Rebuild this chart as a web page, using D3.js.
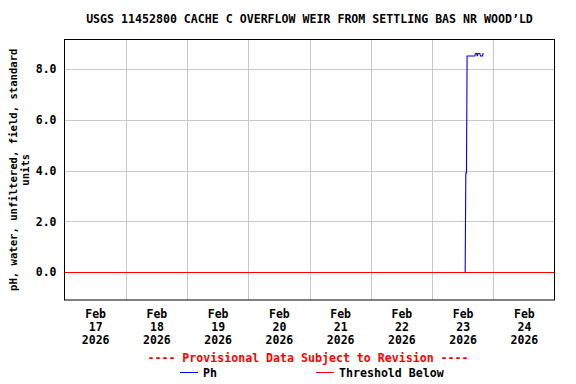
<!DOCTYPE html>
<html>
<head>
<meta charset="utf-8">
<script src="https://cdn.jsdelivr.net/npm/d3@7"></script>
<style>
  body { margin: 0; background: #fff; }
  svg text { font-family: "DejaVu Sans Mono", "Liberation Mono", monospace; font-weight: bold; }
</style>
</head>
<body>
<div id="chart"></div>
<script>
const titleText = "USGS 11452800 CACHE C OVERFLOW WEIR FROM SETTLING BAS NR WOOD\u2019LD";
const yLabelLines = ["pH, water, unfiltered, field, standard", "units"];
const dayTicks = ["2026-02-17", "2026-02-18", "2026-02-19", "2026-02-20",
  "2026-02-21", "2026-02-22", "2026-02-23", "2026-02-24"];
const yTicks = [0, 2, 4, 6, 8];
const thresholdValue = 0.0;

// pH readings on Feb 23 2026
const phTimes = [
  "2026-02-23 13:00", "2026-02-23 13:15", "2026-02-23 13:30", "2026-02-23 13:45",
  "2026-02-23 14:00", "2026-02-23 14:15", "2026-02-23 14:30", "2026-02-23 14:45",
  "2026-02-23 15:00", "2026-02-23 15:15", "2026-02-23 15:30", "2026-02-23 15:45",
  "2026-02-23 16:00", "2026-02-23 16:15", "2026-02-23 16:30", "2026-02-23 16:45",
  "2026-02-23 17:00", "2026-02-23 17:15", "2026-02-23 17:30", "2026-02-23 17:45",
  "2026-02-23 18:00", "2026-02-23 18:15", "2026-02-23 18:30", "2026-02-23 18:45",
  "2026-02-23 19:00", "2026-02-23 19:15", "2026-02-23 19:30", "2026-02-23 19:45",
  "2026-02-23 20:00", "2026-02-23 20:15"
];
const phValues = [
  0.0, 3.9, 3.9, 8.5,
  8.5, 8.5, 8.5, 8.5,
  8.5, 8.5, 8.5, 8.5,
  8.5, 8.5, 8.5, 8.5,
  8.6, 8.6, 8.6, 8.5,
  8.6, 8.6, 8.6, 8.6,
  8.5, 8.5, 8.5, 8.5,
  8.6, 8.6
];

const width = 576;
const height = 384;
const margin = { top: 39.5, right: 21.5, bottom: 84, left: 64.5 };
const plotW = width - margin.left - margin.right;
const plotH = height - margin.top - margin.bottom;

const parseDay = d3.utcParse("%Y-%m-%d");
const parseTime = d3.utcParse("%Y-%m-%d %H:%M");

const svg = d3.select("#chart").append("svg")
  .attr("width", width)
  .attr("height", height);

const xScale = d3.scaleUtc()
  .domain([parseDay("2026-02-17"), parseDay("2026-02-25")])
  .range([margin.left, margin.left + plotW]);

const yScale = d3.scaleLinear()
  .domain([-1.09, 9.15])
  .range([margin.top + plotH, margin.top]);

const gridColor = "#c8c8c8";

// vertical grid at midnight
const midnights = dayTicks.slice(1).map(parseDay);
svg.append("g")
  .selectAll("line")
  .data(midnights)
  .join("line")
  .attr("x1", (d) => Math.round(xScale(d)) + 0.5)
  .attr("x2", (d) => Math.round(xScale(d)) + 0.5)
  .attr("y1", margin.top)
  .attr("y2", margin.top + plotH)
  .attr("stroke", gridColor);

// horizontal grid
svg.append("g")
  .selectAll("line")
  .data(yTicks)
  .join("line")
  .attr("x1", margin.left)
  .attr("x2", margin.left + plotW)
  .attr("y1", (d) => Math.round(yScale(d)) + 0.5)
  .attr("y2", (d) => Math.round(yScale(d)) + 0.5)
  .attr("stroke", gridColor);

// threshold line
svg.append("line")
  .attr("x1", margin.left)
  .attr("x2", margin.left + plotW)
  .attr("y1", Math.round(yScale(thresholdValue)) + 0.5)
  .attr("y2", Math.round(yScale(thresholdValue)) + 0.5)
  .attr("stroke", "#ff0000");

// pH series
const phData = phTimes.map((t, i) => ({ date: parseTime(t), value: phValues[i] }));
const line = d3.line()
  .x((d) => xScale(d.date))
  .y((d) => yScale(d.value));

svg.append("path")
  .datum(phData)
  .attr("d", line)
  .attr("fill", "none")
  .attr("stroke", "#0000ff")
  .attr("stroke-width", 1.1);

// frame
svg.append("rect")
  .attr("x", margin.left)
  .attr("y", margin.top)
  .attr("width", plotW)
  .attr("height", plotH)
  .attr("fill", "none")
  .attr("stroke", "#000");

// y axis
const yAxis = d3.axisLeft(yScale)
  .tickValues(yTicks)
  .tickFormat(d3.format(".1f"))
  .tickSize(0)
  .tickPadding(8);

const yAxisG = svg.append("g")
  .attr("transform", `translate(${margin.left}, 0)`)
  .call(yAxis);
yAxisG.select(".domain").remove();
yAxisG.selectAll("text")
  .attr("font-size", 11.5)
  .attr("font-family", null)
  .attr("fill", "#000");

// x axis labels at noon, three lines each
const noons = dayTicks.map((d) => d3.utcHour.offset(parseDay(d), 12));
const fmtMon = d3.utcFormat("%b");
const fmtDay = d3.utcFormat("%d");
const fmtYear = d3.utcFormat("%Y");

const xAxis = d3.axisBottom(xScale)
  .tickValues(noons)
  .tickSize(0)
  .tickFormat("");

const xAxisG = svg.append("g")
  .attr("transform", `translate(0, ${margin.top + plotH})`)
  .call(xAxis);
xAxisG.select(".domain").remove();
xAxisG.selectAll(".tick").each(function (d) {
  const t = d3.select(this).select("text")
    .attr("y", 0)
    .attr("dy", null)
    .attr("font-size", 11.5)
    .attr("font-family", null)
    .attr("fill", "#000");
  [fmtMon(d), fmtDay(d), fmtYear(d)].forEach((s, i) => {
    t.append("tspan").attr("x", 0).attr("y", 18 + i * 13).text(s);
  });
});

// title
svg.append("text")
  .attr("x", margin.left + plotW / 2)
  .attr("y", 23)
  .attr("text-anchor", "middle")
  .attr("font-size", 11.6)
  .text(titleText);

// y label
const yLabel = svg.append("text")
  .attr("transform", `translate(17, ${margin.top + plotH / 2}) rotate(-90)`)
  .attr("text-anchor", "middle")
  .attr("font-size", 10.6);
yLabelLines.forEach((s, i) => {
  yLabel.append("tspan").attr("x", 0).attr("y", i * 12).text(s);
});

// provisional note
svg.append("text")
  .attr("x", 308)
  .attr("y", 362)
  .attr("text-anchor", "middle")
  .attr("font-size", 11.6)
  .attr("fill", "#ff0000")
  .text("---- Provisional Data Subject to Revision ----");

// legend
const legendItems = [
  { label: "Ph", color: "#0000ff", x: 180 },
  { label: "Threshold Below", color: "#ff0000", x: 316 }
];
const legend = svg.append("g")
  .selectAll("g")
  .data(legendItems)
  .join("g")
  .attr("transform", (d) => `translate(${d.x}, 372)`);
legend.append("line")
  .attr("x1", 0)
  .attr("x2", 18)
  .attr("y1", 0.5)
  .attr("y2", 0.5)
  .attr("stroke", (d) => d.color);
legend.append("text")
  .attr("x", 23)
  .attr("y", 5)
  .attr("font-size", 11.6)
  .attr("fill", "#000")
  .text((d) => d.label);
</script>
</body>
</html>
